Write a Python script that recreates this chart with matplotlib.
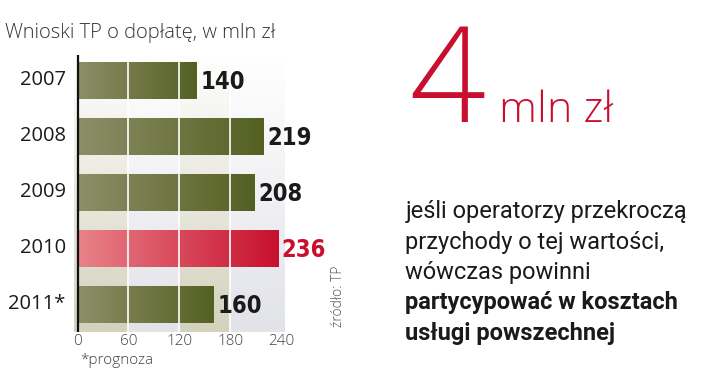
import numpy as np
import matplotlib
matplotlib.use("Agg")
import matplotlib.pyplot as plt
from matplotlib.colors import to_rgb

years = ["2007", "2008", "2009", "2010", "2011*"]
values = [140, 219, 208, 236, 160]
highlight = "2010"
ticks = [0, 60, 120, 180, 240]

fig = plt.figure(figsize=(7.2, 3.8), dpi=100)
ax = fig.add_axes([0.103, 0.126, 0.292, 0.729])
ax.set_xlim(-4, 244)
ax.set_ylim(4.5, -0.45)

# background stripes, fading to white at the top
stripe_cols = ["#d3d2bd", "#e2e3e9", "#d3d2bd", "#e2e3e9"]
grad = np.linspace(0, 1, 100)[:, None]
for i, c in enumerate(stripe_cols):
    rgb = np.array(to_rgb(c))
    img = np.ones((100, 1, 3)) * (1 - grad[..., None]) + rgb * grad[..., None]
    x0 = -4 if i == 0 else ticks[i]
    x1 = 244 if i == 3 else ticks[i + 1]
    ax.imshow(img, extent=(x0, x1, 4.5, -0.45), aspect="auto", zorder=0)

# bars with horizontal gradient
for i, (y, v) in enumerate(zip(years, values)):
    if y == highlight:
        c0, c1 = "#e8838a", "#c8102e"
        tc = "#c8102e"
    else:
        c0, c1 = "#8d8f68", "#546022"
        tc = "#1a1a1a"
    bar = ax.barh(i, v, height=0.66, left=0, color="none", edgecolor="none", zorder=2)[0]
    t = np.linspace(0, 1, 200)[None, :, None]
    img = np.array(to_rgb(c0)) * (1 - t) + np.array(to_rgb(c1)) * t
    im = ax.imshow(img, extent=(0, v, i + 0.33, i - 0.33), aspect="auto", zorder=2)
    im.set_clip_path(bar)
    ax.text(v + 5, i + 0.03, str(v), va="center", ha="left", fontsize=17,
            fontweight="bold", fontstretch="condensed", color=tc,
            family="DejaVu Sans", zorder=4)
    ax.text(-14, i, y, va="center", ha="right", fontsize=14.5, color="#1a1a1a",
            family="Open Sans", zorder=4)

for x in ticks[1:4]:
    ax.axvline(x, color="white", lw=1.2, zorder=3)
ax.axvline(0, color="#111111", lw=1.6, zorder=5)

ax.set_xticks(ticks)
ax.set_xticklabels([str(t) for t in ticks], fontsize=11, color="#444444",
                   family="Open Sans", fontweight="light")
ax.tick_params(axis="x", length=0, pad=1)
ax.set_yticks([])
for s in ax.spines.values():
    s.set_visible(False)

fig.text(0.007, 0.913, "Wnioski TP o dopłatę, w mln zł", fontsize=14.5,
         color="#333333", family="Open Sans", fontweight="light", va="center")
fig.text(0.112, 0.05, "*prognoza", fontsize=11, color="#444444",
         family="Open Sans", fontweight="light", va="center")
fig.text(0.47, 0.22, "źródło: TP", fontsize=10, color="#555555", rotation=90,
         family="Open Sans", fontweight="light", va="center", ha="center")

red = "#c8102e"
fig.text(0.568, 0.68, "4", fontsize=96, color=red, family="Open Sans",
         fontweight="light", va="baseline", ha="left")
fig.text(0.693, 0.68, "mln zł", fontsize=31, color=red, family="Open Sans",
         fontweight="light", va="baseline", ha="left")

lines = [("jeśli operatorzy przekroczą", "normal"),
         ("przychody o tej wartości,", "normal"),
         ("wówczas powinni", "normal"),
         ("partycypować w kosztach", "bold"),
         ("usługi powszechnej", "bold")]
for k, (s, w) in enumerate(lines):
    fig.text(0.563, 1 - (212 + 30.3 * k) / 380, s, fontsize=17, color="#1a1a1a",
             family="Roboto", fontweight=w, va="center", ha="left")

fig.savefig("out.png", dpi=100)
